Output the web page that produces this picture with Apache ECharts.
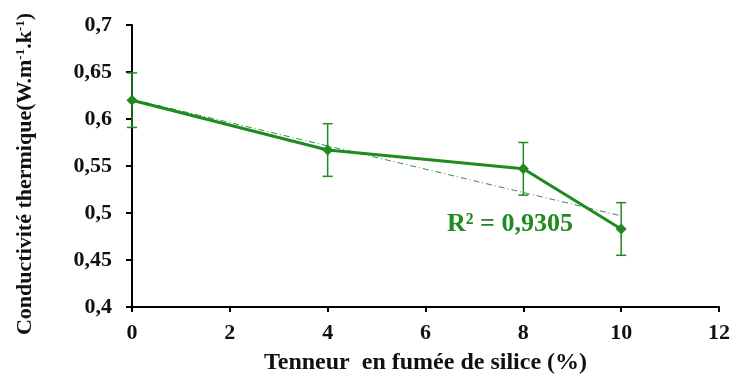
<!DOCTYPE html>
<html>
<head>
<meta charset="utf-8">
<script src="https://cdn.jsdelivr.net/npm/echarts@6/dist/echarts.min.js"></script>
<style>
  html, body { margin: 0; padding: 0; background: #fff; }
  #main { width: 733px; height: 376px; }
</style>
</head>
<body>
<div id="main"></div>
<script>
// données
var teneur = [0, 4, 8, 10];
var conductivite = [0.620, 0.567, 0.547, 0.483];
var erreur = [0.029, 0.028, 0.028, 0.028];
// droite de tendance (extrémités lues)
var tendanceX = [0, 10];
var tendanceY = [0.621, 0.497];
var r2Texte = 'R² = 0,9305';

var vert = '#1f8a1f';
var police = '"Liberation Serif", "Times New Roman", serif';

var chart = echarts.init(document.getElementById('main'));

var points = teneur.map(function (x, i) { return [x, conductivite[i]]; });
var barres = teneur.map(function (x, i) {
    return [x, conductivite[i] - erreur[i], conductivite[i] + erreur[i]];
});
var tendance = tendanceX.map(function (x, i) { return [x, tendanceY[i]]; });

chart.setOption({
    animation: false,
    backgroundColor: '#fff',
    grid: { left: 132, right: 14, top: 25, bottom: 69, outerBoundsMode: 'none' },
    xAxis: {
        type: 'value',
        min: 0, max: 12, interval: 2,
        name: 'Tenneur  en fumée de silice (%)',
        nameLocation: 'middle',
        nameGap: 44,
        nameTextStyle: { fontFamily: police, fontWeight: 'bold', fontSize: 24, color: '#111' },
        axisLine: { lineStyle: { color: '#000', width: 2 } },
        axisTick: { show: true, length: 5, lineStyle: { color: '#000', width: 2 } },
        axisLabel: { fontFamily: police, fontWeight: 'bold', fontSize: 22, color: '#111', margin: 15 },
        splitLine: { show: false }
    },
    yAxis: {
        type: 'value',
        min: 0.4, max: 0.7, interval: 0.05,
        name: 'Conductivité thermique(W.m{s|-1}.k{s|-1})',
        nameLocation: 'middle',
        nameGap: 96,
        nameTextStyle: {
            fontFamily: police, fontWeight: 'bold', fontSize: 22, color: '#111',
            padding: [0, 16, 0, 0],
            rich: { s: { fontFamily: police, fontWeight: 'bold', fontSize: 13, color: '#111', verticalAlign: 'top', padding: [0, 0, 9, 0] } }
        },
        axisLine: { show: true, lineStyle: { color: '#000', width: 2 } },
        axisTick: { show: true, length: 6, lineStyle: { color: '#000', width: 2 } },
        axisLabel: {
            fontFamily: police, fontWeight: 'bold', fontSize: 22, color: '#111', margin: 20,
            formatter: function (v) { return String(Math.round(v * 100) / 100).replace('.', ','); }
        },
        splitLine: { show: false }
    },
    series: [
        {
            type: 'line',
            data: tendance,
            symbol: 'none',
            lineStyle: { color: '#3a8a4a', width: 1, type: [6, 3, 1, 3] },
            z: 1
        },
        {
            type: 'custom',
            data: barres,
            renderItem: function (params, api) {
                var x = api.value(0);
                var bas = api.coord([x, api.value(1)]);
                var haut = api.coord([x, api.value(2)]);
                var w = 5;
                var style = { stroke: vert, lineWidth: 1.5 };
                return {
                    type: 'group',
                    children: [
                        { type: 'line', shape: { x1: bas[0], y1: bas[1], x2: haut[0], y2: haut[1] }, style: style },
                        { type: 'line', shape: { x1: bas[0] - w, y1: bas[1], x2: bas[0] + w, y2: bas[1] }, style: style },
                        { type: 'line', shape: { x1: haut[0] - w, y1: haut[1], x2: haut[0] + w, y2: haut[1] }, style: style }
                    ]
                };
            },
            z: 2
        },
        {
            type: 'line',
            data: points,
            symbol: 'diamond',
            symbolSize: 11,
            itemStyle: { color: vert },
            lineStyle: { color: vert, width: 3 },
            z: 3
        }
    ],
    graphic: [
        {
            type: 'text',
            left: 447, top: 211,
            style: { text: r2Texte, fontFamily: police, fontWeight: 'bold', fontSize: 26, fill: vert }
        }
    ]
});
</script>
</body>
</html>
